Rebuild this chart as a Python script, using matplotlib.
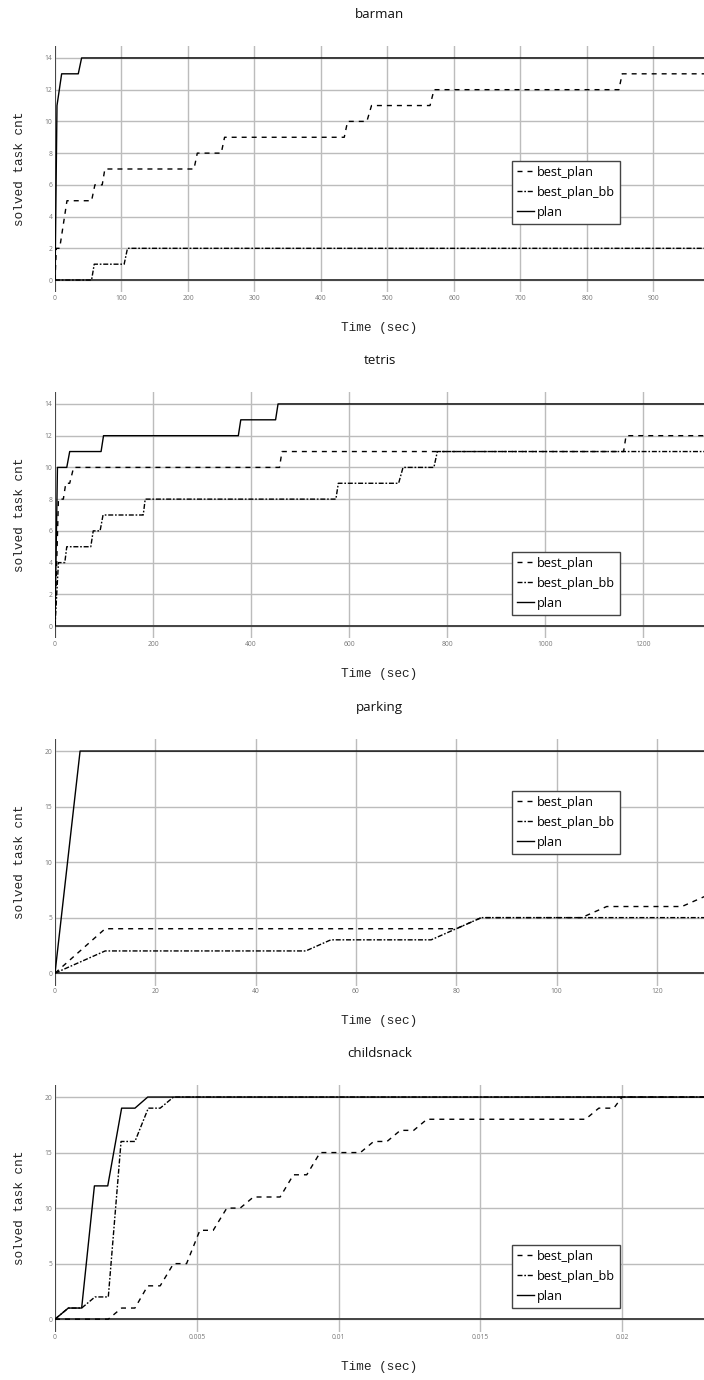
import matplotlib
matplotlib.use('Agg')
import matplotlib.pyplot as plt

plt.rcParams['lines.scale_dashes'] = False

# barman
barman_best_t = [0, 2, 7, 18, 55, 60, 71, 75, 209, 214, 250, 255, 435, 440, 469, 476, 564, 570, 848, 853, 980]
barman_best_n = [0, 2, 2, 5, 5, 6, 6, 7, 7, 8, 8, 9, 9, 10, 10, 11, 11, 12, 12, 13, 13]
barman_bb_t = [0, 55, 59, 104, 109, 980]
barman_bb_n = [0, 0, 1, 1, 2, 2]
barman_plan_t = [0, 3, 10, 35, 40, 980]
barman_plan_n = [0, 11, 13, 13, 14, 14]

# tetris
tetris_best_t = [0, 7, 17, 22, 30, 38, 458, 463, 1160, 1165, 1330]
tetris_best_n = [0, 8, 8, 9, 9, 10, 10, 11, 11, 12, 12]
tetris_bb_t = [0, 7, 20, 24, 73, 78, 92, 98, 180, 184, 573, 578, 701, 710, 773, 780, 1330]
tetris_bb_n = [0, 4, 4, 5, 5, 6, 6, 7, 7, 8, 8, 9, 9, 10, 10, 11, 11]
tetris_plan_t = [0, 5, 24, 30, 94, 99, 374, 379, 450, 455, 1330]
tetris_plan_n = [0, 10, 10, 11, 11, 12, 12, 13, 13, 14, 14]

# parking
parking_best_t = [0, 10, 80, 85, 105, 110, 125, 130]
parking_best_n = [0, 4, 4, 5, 5, 6, 6, 7]
parking_bb_t = [0, 10, 50, 55, 75, 85, 130]
parking_bb_n = [0, 2, 2, 3, 3, 5, 5]
parking_plan_t = [0, 5, 130]
parking_plan_n = [0, 20, 20]

# childsnack
childsnack_best_t = [0, 0.00188, 0.00235, 0.00282, 0.00327, 0.00371, 0.00418, 0.00464, 0.00511,
                     0.00558, 0.00606, 0.00653, 0.0070, 0.00794, 0.00841, 0.00888, 0.00935,
                     0.01077, 0.01124, 0.01171, 0.01218, 0.01265, 0.01312, 0.01871, 0.01918,
                     0.01971, 0.0200, 0.023]
childsnack_best_n = [0, 0, 1, 1, 3, 3, 5, 5, 8, 8, 10, 10, 11, 11, 13, 13, 15, 15, 16, 16,
                     17, 17, 18, 18, 19, 19, 20, 20]
childsnack_bb_t = [0, 0.00047, 0.00094, 0.00141, 0.00188, 0.00233, 0.00282, 0.00329, 0.00371, 0.00418, 0.023]
childsnack_bb_n = [0, 1, 1, 2, 2, 16, 16, 19, 19, 20, 20]
childsnack_plan_t = [0, 0.00047, 0.00094, 0.00139, 0.00186, 0.00235, 0.00282, 0.00327, 0.023]
childsnack_plan_n = [0, 1, 1, 12, 12, 19, 19, 20, 20]

series_names = ['best_plan', 'best_plan_bb', 'plan']

panels = [
    ('barman', [(barman_best_t, barman_best_n), (barman_bb_t, barman_bb_n), (barman_plan_t, barman_plan_n)],
     976, 14, 100, 2, ['0', '100', '200', '300', '400', '500', '600', '700', '800', '900']),
    ('tetris', [(tetris_best_t, tetris_best_n), (tetris_bb_t, tetris_bb_n), (tetris_plan_t, tetris_plan_n)],
     1324, 14, 200, 2, ['0', '200', '400', '600', '800', '1000', '1200']),
    ('parking', [(parking_best_t, parking_best_n), (parking_bb_t, parking_bb_n), (parking_plan_t, parking_plan_n)],
     129.4, 20, 20, 5, ['0', '20', '40', '60', '80', '100', '120']),
    ('childsnack', [(childsnack_best_t, childsnack_best_n), (childsnack_bb_t, childsnack_bb_n),
                    (childsnack_plan_t, childsnack_plan_n)],
     0.02289, 20, 0.005, 5, ['0', '0.005', '0.01', '0.015', '0.02']),
]

styles = [(0, (3.6, 3.6)), (0, (3.6, 1.3, 1.2, 1.3)), '-']

W, H = 704, 1380
fig = plt.figure(figsize=(W / 100, H / 100), dpi=100)

tops = [45.6, 391.6, 738.7, 1084.7]
legend_tops = [161, 552, 791, 1245]
left, right, ph = 55, 704, 246.8

for i, (name, data, xmax, ymax, xstep, ystep, xlabels) in enumerate(panels):
    top = tops[i]
    ax = fig.add_axes([left / W, 1 - (top + ph) / H, (right - left) / W, ph / H])
    for s in ax.spines.values():
        s.set_visible(False)

    pad = ymax * 0.0556
    ax.set_ylim(-pad, ymax + pad)
    ax.set_xlim(0, xmax)
    xt = [k * xstep for k in range(len(xlabels))]
    ax.set_xticks(xt)
    ax.set_xticklabels(xlabels)
    yt = list(range(0, ymax + 1, ystep))
    ax.set_yticks(yt)
    ax.set_yticklabels([str(v) for v in yt])
    ax.tick_params(length=0, labelsize=4.9, labelcolor='#777777', pad=2)
    for lab in ax.get_xticklabels() + ax.get_yticklabels():
        lab.set_family('Open Sans')

    ax.grid(True, color='#bcbcbc', lw=1.0, zorder=0)
    ax.set_axisbelow(True)
    ax.axhline(0, color='#444444', lw=1.4, zorder=1)
    ax.axvline(0, color='#444444', lw=1.4, zorder=1)

    handles = []
    for (t, n), ls, lab in zip(data, styles, series_names):
        h, = ax.plot(t, n, color='black', lw=1.0, linestyle=ls, label=lab, zorder=3)
        handles.append(h)

    leg = ax.legend(handles=handles, loc='upper left',
                    bbox_to_anchor=(512 / W, 1 - legend_tops[i] / H), bbox_transform=fig.transFigure,
                    borderaxespad=0, frameon=True, fancybox=False, framealpha=1,
                    edgecolor='#444444', prop={'family': 'Open Sans', 'size': 9.1},
                    handlelength=1.35, handletextpad=0.25, borderpad=0.38, labelspacing=0.55)
    leg.get_frame().set_linewidth(1.0)

    cx = (left + right) / 2 / W
    fig.text(cx, 1 - (top - 31.4) / H, name, ha='center', va='center',
             family='Open Sans', fontsize=9.6, color='#111111')
    fig.text(cx, 1 - (top + 282.2) / H, 'Time (sec)', ha='center', va='center',
             family='Liberation Mono', fontsize=9.2, color='#222222')
    fig.text(20 / W, 1 - (top + ph / 2) / H, 'solved task cnt', ha='center', va='center',
             rotation=90, family='Liberation Mono', fontsize=9.2, color='#222222')

fig.savefig('out.png', dpi=100)
